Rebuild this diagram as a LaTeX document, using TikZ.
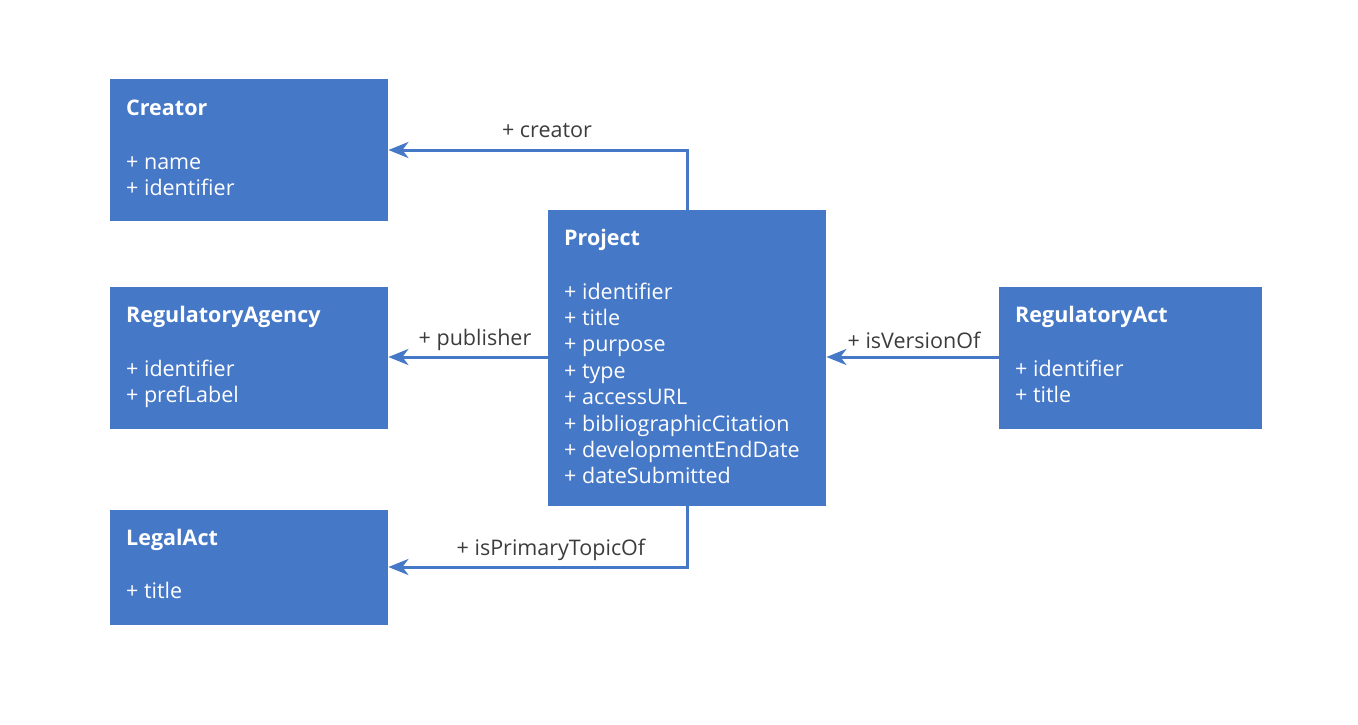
\documentclass[tikz,border=0pt]{standalone}
\usepackage{fontspec}
\setmainfont{Open Sans}
\usetikzlibrary{arrows.meta}
\definecolor{boxblue}{RGB}{70,120,200}
\definecolor{labgrey}{RGB}{60,60,60}
\tikzset{
  umlbox/.style={draw=none, fill=boxblue, rectangle, inner sep=0pt},
  ttl/.style={anchor=base west, inner sep=0pt, text=white, font=\fontsize{21.5}{25}\selectfont\bfseries},
  attrs/.style={anchor=base west, inner sep=0pt, text=white, align=left, font=\fontsize{21.5}{26.4}\selectfont},
  conn/.style={draw=boxblue, line width=3pt, -{Stealth[length=20pt,width=16pt,inset=6pt]}},
  lab/.style={inner sep=0pt, text=labgrey, font=\fontsize{21.5}{24}\selectfont}
}
\begin{document}
\begin{tikzpicture}[x=1pt,y=-1pt]
\useasboundingbox (0,0) rectangle (1358,724);
% boxes
\node[umlbox, minimum width=278pt, minimum height=142pt, anchor=north west] (creator) at (110,79) {};
\node[umlbox, minimum width=278pt, minimum height=142pt, anchor=north west] (agency) at (110,287) {};
\node[umlbox, minimum width=278pt, minimum height=115pt, anchor=north west] (legal) at (110,510) {};
\node[umlbox, minimum width=278pt, minimum height=296pt, anchor=north west] (project) at (548,210) {};
\node[umlbox, minimum width=263pt, minimum height=142pt, anchor=north west] (regact) at (999,287) {};
% texts (base = baseline of last line)
\node[ttl] (creatorT) at (126,115) {Creator};
\node[attrs] (creatorA) at (126,195.4) {+ name\\+ identifier};
\node[ttl] (agencyT) at (126,322) {RegulatoryAgency};
\node[attrs] (agencyA) at (126,402.4) {+ identifier\\+ prefLabel};
\node[ttl] (legalT) at (126,545) {LegalAct};
\node[attrs] (legalA) at (126,598) {+ title};
\node[ttl] (projectT) at (564,245) {Project};
\node[attrs] (projectA) at (564,483.8) {+ identifier\\+ title\\+ purpose\\+ type\\+ accessURL\\+ bibliographicCitation\\+ developmentEndDate\\+ dateSubmitted};
\node[ttl] (regactT) at (1015,322) {RegulatoryAct};
\node[attrs] (regactA) at (1015,402.4) {+ identifier\\+ title};
% connectors
\coordinate (c1) at (687,150);
\coordinate (c2) at (687,567);
\draw[conn] (project.north -| c1) -- (c1) -- (c1 -| creator.east);
\draw[conn] (project.west |- 0,357) -- (agency.east |- 0,357);
\draw[conn] (regact.west |- 0,357) -- (project.east |- 0,357);
\draw[conn] (project.south -| c2) -- (c2) -- (c2 -| legal.east);
% labels
\node[lab] (l1) at (547,131) {+ creator};
\node[lab] (l2) at (475,340) {+ publisher};
\node[lab] (l3) at (914,340) {+ isVersionOf};
\node[lab] (l4) at (551,550) {+ isPrimaryTopicOf};
\end{tikzpicture}
\end{document}
